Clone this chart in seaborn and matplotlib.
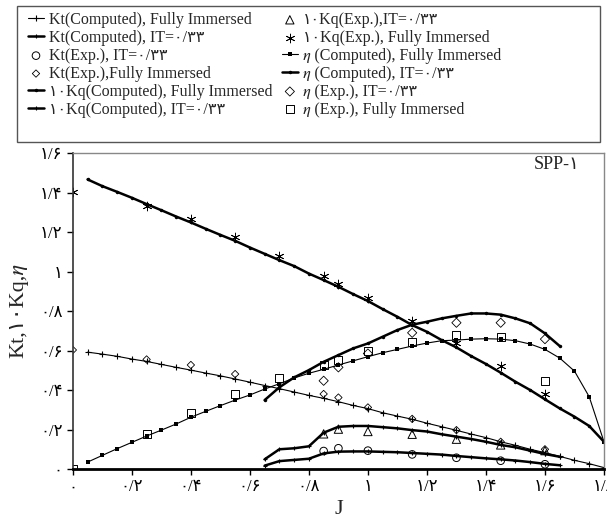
import matplotlib
matplotlib.use("Agg")
import matplotlib.pyplot as plt
import seaborn as sns
from matplotlib.patches import Rectangle

# advance ratio points of the computed curves
J_fi = [0.05, 0.1, 0.15, 0.2, 0.25, 0.3, 0.35, 0.4, 0.45, 0.5, 0.55, 0.6,
        0.65, 0.7, 0.75, 0.8, 0.85, 0.9, 0.95, 1.0, 1.05, 1.1, 1.15, 1.2,
        1.25, 1.3, 1.35, 1.4, 1.45, 1.5, 1.55, 1.6, 1.65, 1.7, 1.75, 1.8]
J_it = [0.65, 0.7, 0.75, 0.8, 0.85, 0.9, 0.95, 1.0, 1.05, 1.1, 1.15, 1.2,
        1.25, 1.3, 1.35, 1.4, 1.45, 1.5, 1.55, 1.6, 1.65]

# computed, fully immersed
kt_fi = [0.592, 0.582, 0.571, 0.557, 0.545, 0.530, 0.515, 0.501, 0.486, 0.472, 0.456, 0.440,
         0.423, 0.407, 0.390, 0.373, 0.358, 0.341, 0.322, 0.306, 0.285, 0.268, 0.252, 0.232,
         0.214, 0.196, 0.177, 0.159, 0.138, 0.120, 0.100, 0.083, 0.064, 0.044, 0.027, 0.007]
kq_fi = [1.467, 1.433, 1.404, 1.374, 1.342, 1.311, 1.279, 1.249, 1.217, 1.186, 1.156, 1.122,
         1.090, 1.058, 1.028, 0.990, 0.957, 0.923, 0.886, 0.851, 0.810, 0.771, 0.729, 0.695,
         0.653, 0.616, 0.572, 0.532, 0.488, 0.442, 0.400, 0.353, 0.307, 0.265, 0.218, 0.138]
eta_fi = [0.035, 0.069, 0.103, 0.135, 0.167, 0.197, 0.228, 0.262, 0.292, 0.321, 0.349, 0.375,
          0.405, 0.432, 0.461, 0.485, 0.505, 0.527, 0.548, 0.569, 0.589, 0.606, 0.623, 0.638,
          0.650, 0.653, 0.658, 0.660, 0.658, 0.650, 0.633, 0.606, 0.562, 0.496, 0.366, 0.138]

# computed, IT=0.33
kt_it = [0.017, 0.040, 0.046, 0.052, 0.079, 0.088, 0.089, 0.089, 0.087, 0.085, 0.081, 0.077,
         0.073, 0.066, 0.060, 0.054, 0.049, 0.043, 0.035, 0.026, 0.019]
kq_it = [0.049, 0.100, 0.105, 0.115, 0.184, 0.214, 0.218, 0.218, 0.212, 0.206, 0.197, 0.190,
         0.176, 0.164, 0.152, 0.138, 0.122, 0.110, 0.093, 0.076, 0.062]
eta_it = [0.349, 0.414, 0.464, 0.501, 0.543, 0.577, 0.611, 0.636, 0.670, 0.704, 0.731, 0.746,
          0.763, 0.776, 0.788, 0.788, 0.782, 0.763, 0.738, 0.687, 0.623]

# experiments
J_exp_it = [0.85, 0.9, 1.0, 1.15, 1.3, 1.45, 1.6]
kt_exp_it = [0.091, 0.105, 0.093, 0.074, 0.057, 0.042, 0.024]
kq_exp_it = [0.178, 0.202, 0.190, 0.176, 0.151, 0.122, 0.093]
eta_exp_it = [0.447, 0.515, 0.585, 0.690, 0.741, 0.741, 0.658]

J_kt_exp_fi = [0, 0.25, 0.4, 0.55, 0.85, 0.9, 1.0, 1.15, 1.3, 1.45, 1.6]
kt_exp_fi = [0.603, 0.555, 0.527, 0.481, 0.380, 0.362, 0.312, 0.254, 0.197, 0.138, 0.100]
J_exp_fi = [0, 0.25, 0.4, 0.55, 0.7, 0.85, 0.9, 1.0, 1.15, 1.3, 1.45, 1.6]
kq_exp_fi = [1.404, 1.332, 1.264, 1.176, 1.078, 0.977, 0.937, 0.867, 0.752, 0.637, 0.521, 0.380]
eta_exp_fi = [0.0, 0.177, 0.285, 0.380, 0.459, 0.528, 0.554, 0.596, 0.642, 0.678, 0.670, 0.448]

x_ticks = [0, 0.2, 0.4, 0.6, 0.8, 1.0, 1.2, 1.4, 1.6, 1.8]
x_labels = ["۰", "۰/۲", "۰/۴", "۰/۶", "۰/۸", "۱", "۱/۲", "۱/۴", "۱/۶", "۱/۸"]
y_ticks = [0, 0.2, 0.4, 0.6, 0.8, 1.0, 1.2, 1.4, 1.6]
y_labels = ["۰", "۰/۲", "۰/۴", "۰/۶", "۰/۸", "۱", "۱/۲", "۱/۴", "۱/۶"]

ETA = "\U0001D702"  # italic eta

sns.set_style("white")
plt.rcParams['font.family'] = ['Liberation Serif', 'STIXGeneral', 'DejaVu Sans']

fig, ax = plt.subplots(figsize=(6.07, 5.21), dpi=100)
fig.subplots_adjust(left=0.120, right=0.995, bottom=0.0998, top=0.706)

k = dict(ax=ax, color='black', sort=False, estimator=None, mec='black')
sns.lineplot(x=J_fi, y=kt_fi, lw=0.8, marker='+', ms=4, mew=0.8,
             label="Kt(Computed), Fully Immersed", **k)
sns.lineplot(x=J_it, y=kt_it, lw=1.8, marker='+', ms=3.5, mew=0.8,
             label="Kt(Computed), IT=۰/۳۳", **k)
sns.scatterplot(x=J_exp_it, y=kt_exp_it, ax=ax, marker='o', s=30, facecolor='none',
                edgecolor='black', linewidth=0.7, label="Kt(Exp.), IT=۰/۳۳")
sns.scatterplot(x=J_kt_exp_fi, y=kt_exp_fi, ax=ax, marker='D', s=14, facecolor='none',
                edgecolor='black', linewidth=0.6, label="Kt(Exp.),Fully Immersed")
sns.lineplot(x=J_fi, y=kq_fi, lw=1.8, marker='o', ms=2.5, mew=0,
             label="۱۰Kq(Computed), Fully Immersed", **k)
sns.lineplot(x=J_it, y=kq_it, lw=1.8, marker='+', ms=3.5, mew=0.8,
             label="۱۰Kq(Computed), IT=۰/۳۳", **k)
sns.scatterplot(x=J_exp_it, y=kq_exp_it, ax=ax, marker='^', s=36, facecolor='none',
                edgecolor='black', linewidth=0.7, label="۱۰Kq(Exp.),IT=۰/۳۳")
sns.scatterplot(x=J_exp_fi, y=kq_exp_fi, ax=ax, marker=(6, 2, 0), s=40, color='black',
                linewidth=0.6, label="۱۰Kq(Exp.), Fully Immersed")
sns.lineplot(x=J_fi, y=eta_fi, lw=0.8, marker='s', ms=3.5, mew=0,
             label=ETA + " (Computed), Fully Immersed", **k)
sns.lineplot(x=J_it, y=eta_it, lw=1.8, marker='o', ms=2.5, mew=0,
             label=ETA + " (Computed), IT=۰/۳۳", **k)
sns.scatterplot(x=J_exp_it, y=eta_exp_it, ax=ax, marker='D', s=22, facecolor='none',
                edgecolor='black', linewidth=0.6, label=ETA + " (Exp.), IT=۰/۳۳")
sns.scatterplot(x=J_exp_fi, y=eta_exp_fi, ax=ax, marker='s', s=34, facecolor='none',
                edgecolor='black', linewidth=0.7, label=ETA + " (Exp.), Fully Immersed")

handles, labels = ax.get_legend_handles_labels()
if ax.get_legend() is not None:
    ax.get_legend().remove()

fig.patches.append(Rectangle((17 / 607, 1 - 142 / 521), 583 / 607, 136 / 521,
                             transform=fig.transFigure, fill=False,
                             edgecolor='#555555', lw=1))
fig.legend(handles, labels, ncol=2, loc='upper left', bbox_to_anchor=(28 / 607, 1 - 12 / 521),
           frameon=False, fontsize=11.5, borderpad=0, borderaxespad=0,
           handlelength=1.0, handletextpad=0.3, columnspacing=0.6, labelspacing=0.12)

ax.set_xlim(0, 1.8)
ax.set_ylim(0, 1.6)
ax.set_xticks(x_ticks)
ax.set_xticklabels(x_labels)
ax.set_yticks(y_ticks)
ax.set_yticklabels(y_labels)
ax.tick_params(axis='both', direction='out', length=4, width=1, labelsize=12,
               left=True, bottom=True, colors='black')
ax.set_xlabel("J", fontsize=16, labelpad=3)
ax.set_ylabel("Kt,۱۰Kq," + ETA, fontsize=16, labelpad=8)

for side in ['top', 'right']:
    ax.spines[side].set_color('#888888')
    ax.spines[side].set_linewidth(1)
ax.spines['left'].set_color('#333333')
ax.spines['left'].set_linewidth(1.2)
ax.spines['bottom'].set_color('black')
ax.spines['bottom'].set_linewidth(2)

ax.text(0.953, 0.99, "SPP-۱", transform=ax.transAxes, ha='right', va='top', fontsize=13)

fig.savefig("out.png", dpi=100)
